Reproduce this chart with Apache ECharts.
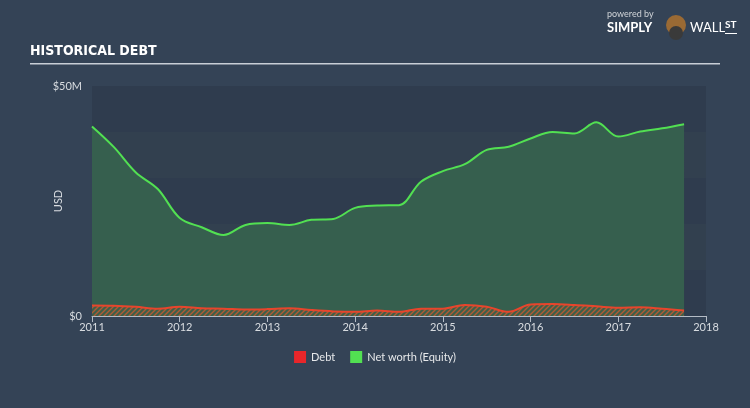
<!DOCTYPE html>
<html><head><meta charset="utf-8">
<script src="https://cdn.jsdelivr.net/npm/echarts@6/dist/echarts.min.js"></script>
<style>html,body{margin:0;padding:0;background:#344356;}#c{width:750px;height:408px;}</style>
</head><body><div id="c"></div>
<script>
var dates = ["2011-01","2011-04","2011-07","2011-10","2012-01","2012-04","2012-07","2012-10","2013-01","2013-04","2013-07","2013-10","2014-01","2014-04","2014-07","2014-10","2015-01","2015-04","2015-07","2015-10","2016-01","2016-04","2016-07","2016-10","2017-01","2017-04","2017-07","2017-10"];
var netWorth = [41.2,36.7,31.2,27.6,21.3,19.3,17.6,19.8,20.2,19.8,20.9,21.1,23.5,24.0,24.1,29.2,31.5,33.0,36.1,36.8,38.6,40.0,39.7,42.1,39.0,40.1,40.8,41.7];
var debt = [2.3,2.25,2.0,1.6,2.0,1.7,1.6,1.4,1.5,1.7,1.3,1.0,0.9,1.2,0.9,1.6,1.6,2.4,2.0,0.9,2.5,2.6,2.4,2.1,1.8,1.9,1.6,1.2];
var yTicks = ["$0","$50M"];

function toYear(d){var p=d.split("-");return +p[0]+(+p[1]-1)/12;}
function pairs(vals){return dates.map(function(d,i){return [toYear(d),vals[i]];});}

var pc=document.createElement('canvas');pc.width=5;pc.height=5;
var g=pc.getContext('2d');g.fillStyle='#3d6049';g.fillRect(0,0,5,5);
g.strokeStyle='#b05a36';g.lineWidth=1.4;
g.beginPath();g.moveTo(-1,6);g.lineTo(6,-1);g.moveTo(-1,1);g.lineTo(1,-1);g.moveTo(4,6);g.lineTo(6,4);g.stroke();

var chart=echarts.init(document.getElementById('c'));
chart.setOption({
  backgroundColor:'#344356',
  animation:false,
  grid:{left:92,right:44,top:86,bottom:92},
  legend:{bottom:40,left:'center',itemWidth:12,itemHeight:12,itemGap:15,icon:'rect',
    textStyle:{color:'#e6e8ea',fontFamily:'Lato',fontSize:11},
    data:[{name:'Debt',itemStyle:{color:'#e8262a'}},{name:'Net worth (Equity)',itemStyle:{color:'#52e052'}}]},
  xAxis:{type:'value',min:2011,max:2018,interval:1,
    axisLine:{show:true,lineStyle:{color:'#b4bcc6',width:1}},
    axisTick:{show:true,length:6,lineStyle:{color:'#b4bcc6'}},
    splitLine:{show:false},
    axisLabel:{color:'#d8dce0',fontFamily:'Lato',fontSize:11,margin:6,formatter:function(v){return String(v);}}},
  yAxis:{type:'value',min:0,max:50,interval:10,
    axisLine:{show:false},axisTick:{show:false},splitLine:{show:false},
    splitArea:{show:true,areaStyle:{color:['#2f3c4e','#32404f']}},
    axisLabel:{color:'#d8dce0',fontFamily:'Lato',fontSize:11,margin:10,
      formatter:function(v){return v===0?yTicks[0]:(v===50?yTicks[1]:'');}}},
  series:[
    {name:'Net worth (Equity)',type:'line',smooth:0.35,symbol:'none',data:pairs(netWorth),
      lineStyle:{color:'#52e052',width:2},areaStyle:{color:'#365f4e',opacity:1},z:2},
    {name:'Debt',type:'line',smooth:0.35,symbol:'none',data:pairs(debt),
      lineStyle:{color:'#e8452c',width:2},areaStyle:{color:{image:pc,repeat:'repeat'},opacity:1},z:3}
  ],
  graphic:[
    {type:'text',x:58,y:201,rotation:Math.PI/2,style:{text:'USD',fill:'#d8dce0',font:'11px Lato',align:'center',verticalAlign:'middle'}},
    {type:'text',left:30,top:44,style:{text:'HISTORICAL DEBT',fill:'#ffffff',font:'bold 14px "Liberation Sans Narrow", "DejaVu Sans Condensed", sans-serif'}},
    {type:'rect',shape:{x:30,y:63,width:690,height:1.5},style:{fill:'#c8ced6'}},
    {type:'text',left:607,top:10,style:{text:'powered by',fill:'#d0d4d8',font:'9px Lato'}},
    {type:'text',left:607,top:21,style:{text:'SIMPLY',fill:'#ffffff',font:'bold 13px Lato'}},
    {type:'circle',shape:{cx:676,cy:25,r:10},style:{fill:'#9a6a34'}},
    {type:'circle',shape:{cx:676,cy:33,r:7},style:{fill:'#3a3a3a'}},
    {type:'text',left:690,top:21,style:{text:'WALL',fill:'#ffffff',font:'13px Lato'}},
    {type:'text',left:725,top:20,style:{text:'ST',fill:'#ffffff',font:'bold 10px Lato'}},
    {type:'rect',shape:{x:725,y:33,width:12,height:1},style:{fill:'#ffffff'}}
  ]
});
</script></body></html>
